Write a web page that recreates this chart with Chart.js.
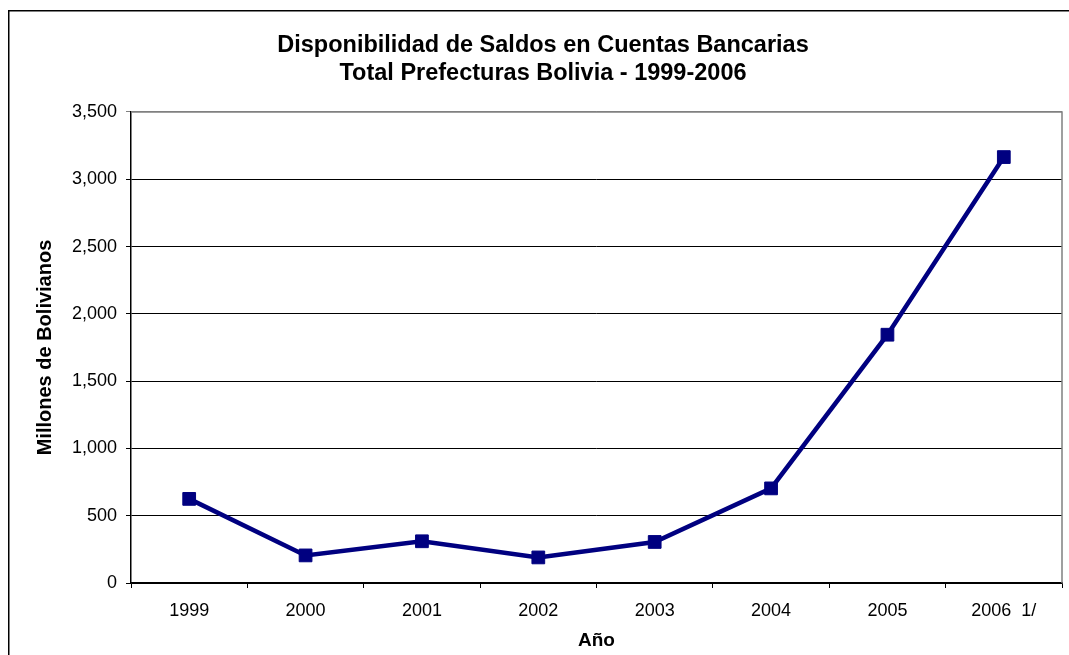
<!DOCTYPE html>
<html>
<head>
<meta charset="utf-8">
<script src="https://cdn.jsdelivr.net/npm/chart.js@4.4.1/dist/chart.umd.min.js"></script>
<style>
  html,body{margin:0;padding:0;background:#fff;overflow:hidden}
  #wrap{position:relative;width:1069px;height:655px}
</style>
</head>
<body>
<div id="wrap"><canvas id="c" width="1069" height="655"></canvas></div>
<script>
'use strict';
// ── DATA ──────────────────────────────────────────────────────
const years = ['1999','2000','2001','2002','2003','2004','2005','2006  1/'];
const saldos = [625, 205, 310, 190, 305, 703, 1845, 3165];
const yTicks = [0, 500, 1000, 1500, 2000, 2500, 3000, 3500];
const titleLines = ['Disponibilidad de Saldos en Cuentas Bancarias', 'Total Prefecturas Bolivia - 1999-2006'];
const yTitle = 'Millones de Bolivianos';
const xTitle = 'Año';

const FONT = 'Arial, "Liberation Sans", sans-serif';
const NAVY = '#000080';

// outer frame + grey plot border (top/right)
const frame = {
  id:'frame',
  beforeDraw(chart){
    const c=chart.ctx;
    c.save();
    c.fillStyle='#fff';c.fillRect(0,0,chart.width,chart.height);
    c.strokeStyle='#000';c.lineWidth=1.5;
    c.strokeRect(8.75,10.75,1400,1400);
    c.restore();
  },
  afterDraw(chart){
    const a=chart.chartArea,c=chart.ctx;
    c.save();
    c.strokeStyle='#808080';c.lineWidth=1.5;
    c.beginPath();
    c.moveTo(a.left,a.top);c.lineTo(a.right,a.top);c.lineTo(a.right,a.bottom);
    c.stroke();
    c.restore();
  }
};

new Chart(document.getElementById('c').getContext('2d'), {
  type:'line',
  data:{
    labels:years,
    datasets:[{
      data:saldos,
      borderColor:NAVY,
      backgroundColor:NAVY,
      borderWidth:4.5,
      pointStyle:'rect',
      pointRadius:9,
      pointBorderWidth:1,
      pointBorderColor:NAVY,
      pointBackgroundColor:NAVY,
      tension:0,
      fill:false
    }]
  },
  options:{
    responsive:false,
    animation:false,
    events:[],
    layout:{autoPadding:false,padding:{left:24,right:7,top:0,bottom:0}},
    plugins:{
      legend:{display:false},
      tooltip:{enabled:false},
      title:{
        display:true,
        text:titleLines,
        color:'#000',
        font:{family:FONT,size:23.5,weight:'bold',lineHeight:1.17},
        padding:{top:32,bottom:25}
      }
    },
    scales:{
      x:{
        offset:true,
        grid:{offset:true,drawOnChartArea:false,drawTicks:true,tickLength:5,color:'#000',lineWidth:1},
        border:{color:'#000',width:1.5},
        ticks:{color:'#000',font:{family:FONT,size:18},padding:12,maxRotation:0,autoSkip:false},
        title:{display:true,text:xTitle,color:'#000',font:{family:FONT,size:19,weight:'bold'},padding:{top:0,bottom:3}},
        afterFit(s){s.height=72;}
      },
      y:{
        min:0,max:3500,
        afterBuildTicks(s){s.ticks=yTicks.map(v=>({value:v}));},
        grid:{
          color:ctx=>ctx.tick&&ctx.tick.value===3500?'#808080':'#000',
          lineWidth:1,tickLength:5,drawTicks:true
        },
        border:{color:'#000',width:1.5},
        ticks:{color:'#000',font:{family:FONT,size:18},padding:9,
          callback:v=>v.toLocaleString('en-US')},
        title:{display:true,text:yTitle,color:'#000',font:{family:FONT,size:20,weight:'bold'},padding:{top:9,bottom:0}},
        afterFit(s){s.width=107;}
      }
    }
  },
  plugins:[frame]
});
</script>
</body>
</html>
